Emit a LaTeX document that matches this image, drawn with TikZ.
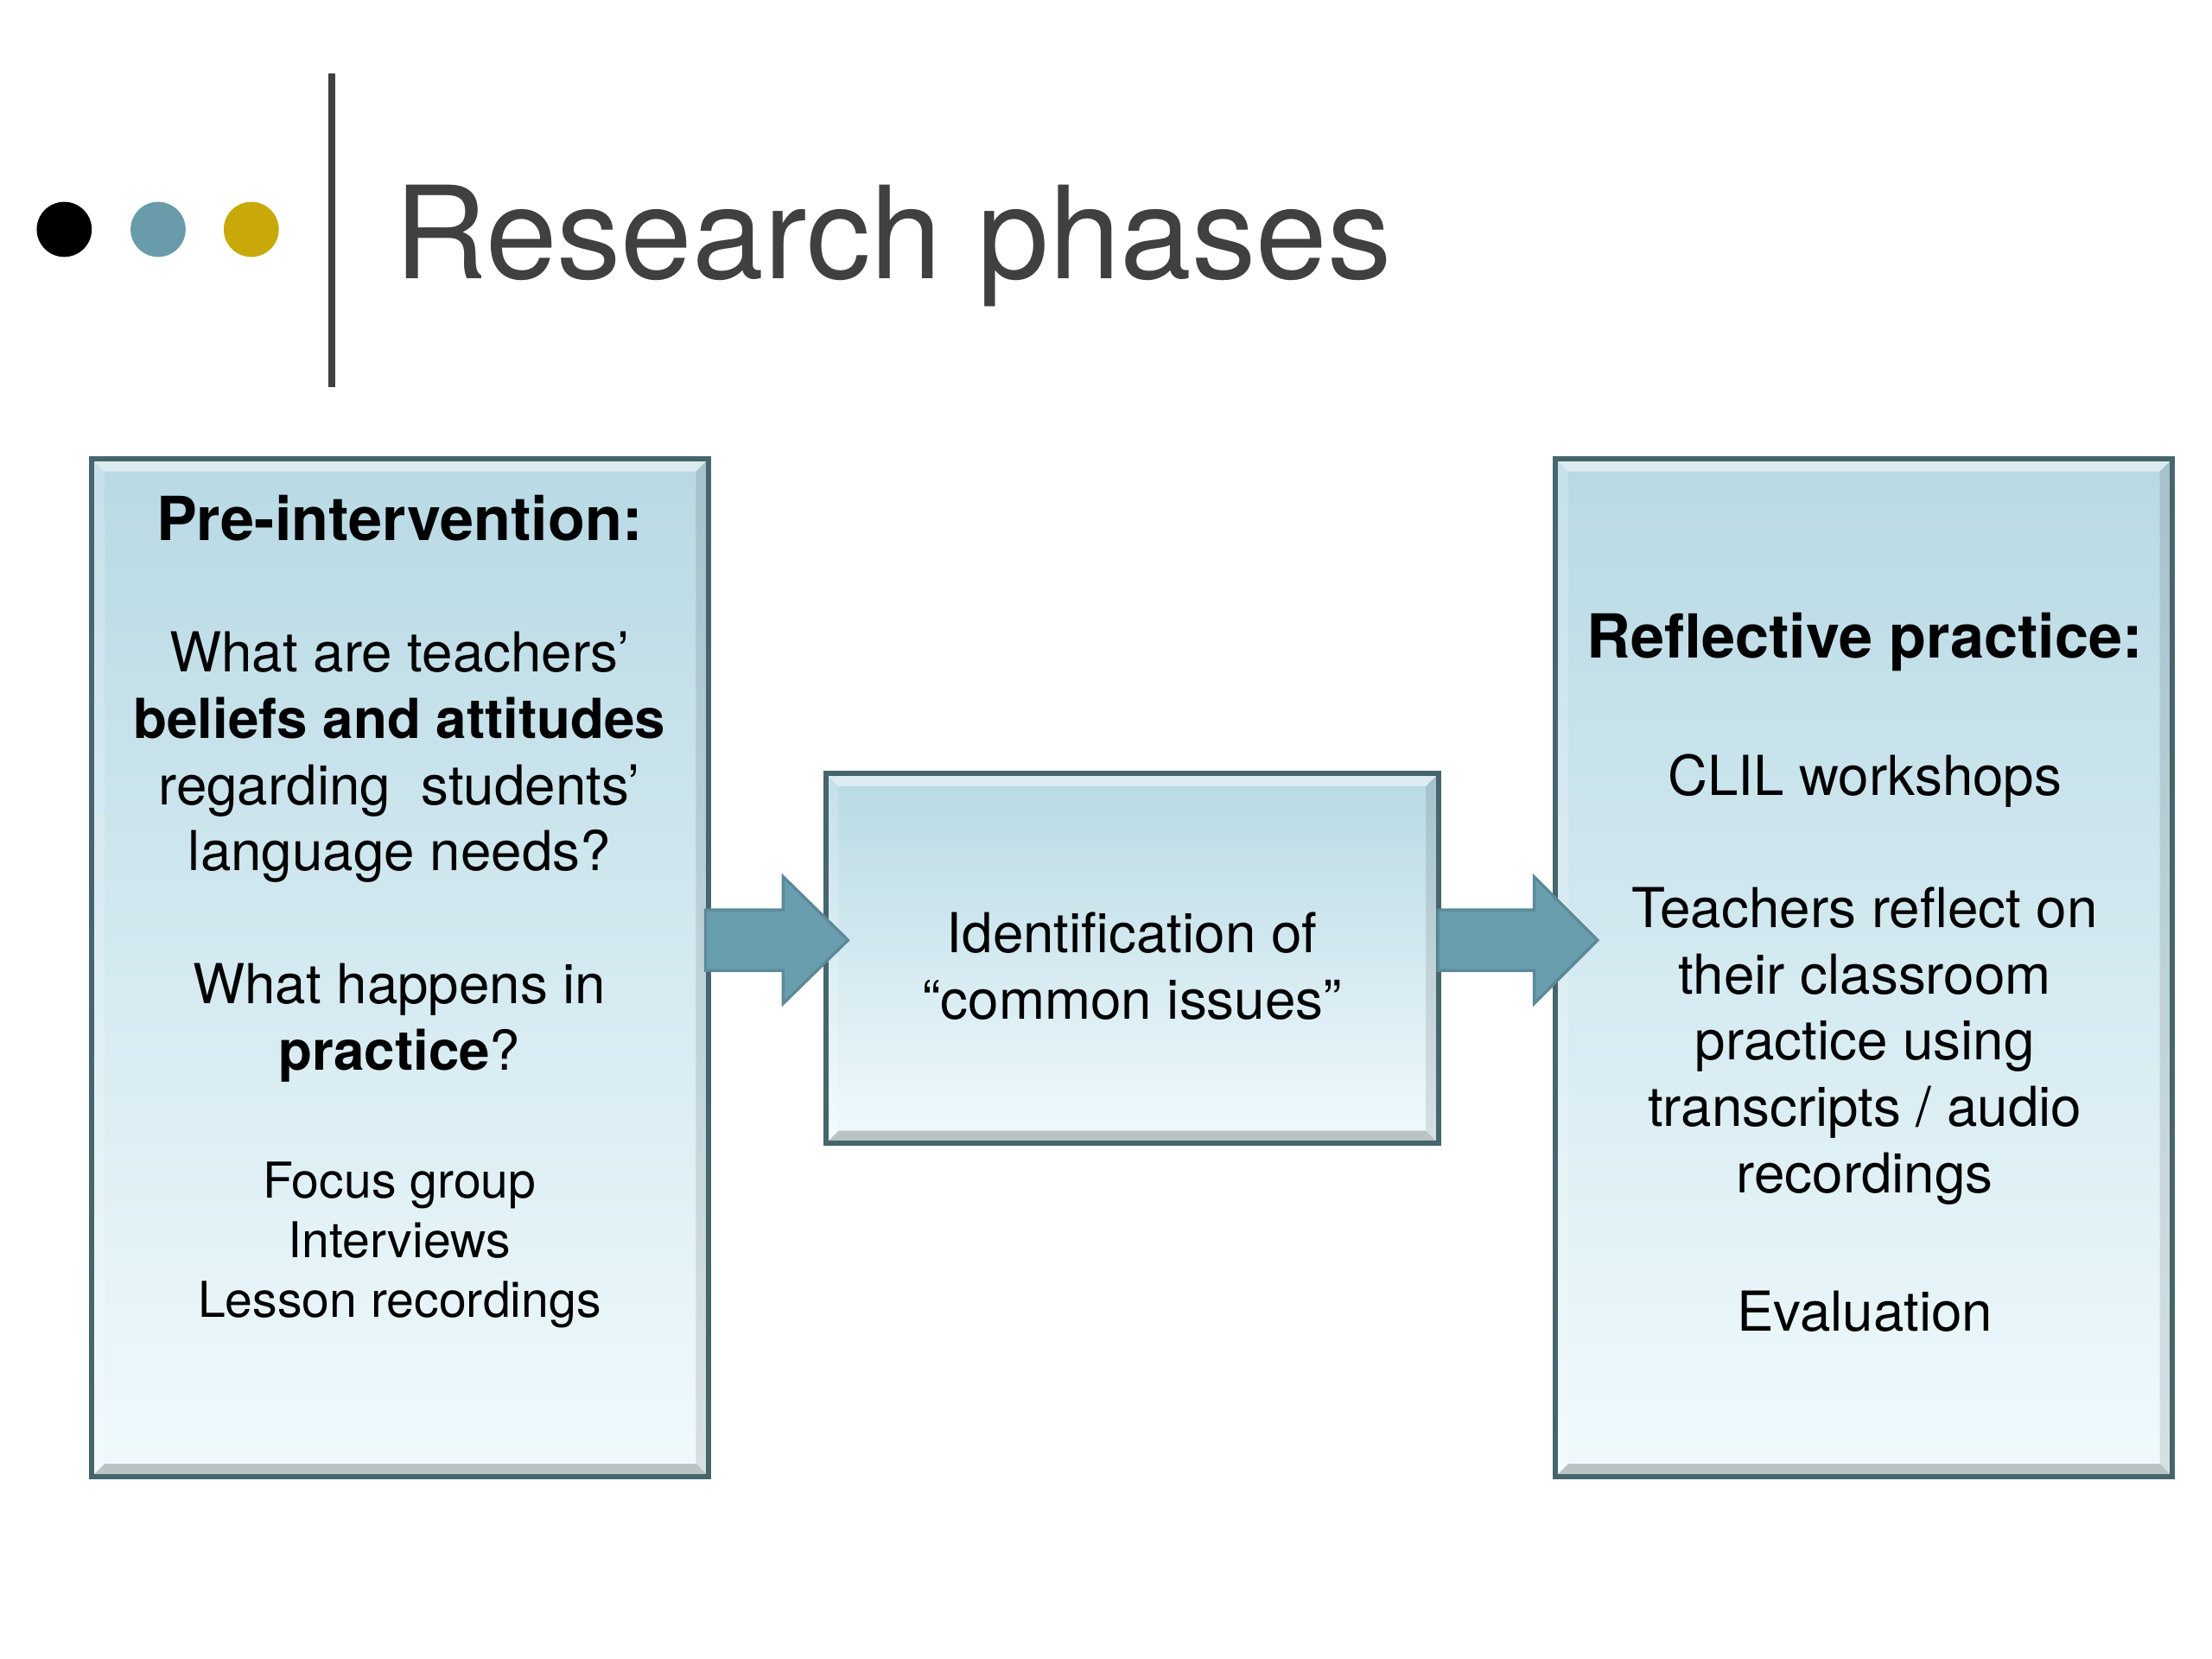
\documentclass[tikz,border=0pt]{standalone}
\usepackage{fontspec}
\setmainfont{TeX Gyre Heros}
\usetikzlibrary{calc,positioning}
\definecolor{boxedge}{HTML}{46656C}
\definecolor{boxtop}{HTML}{B8D9E4}
\definecolor{boxbottom}{HTML}{F0FAFD}
\definecolor{arrowfill}{HTML}{6A9DAD}
\definecolor{arrowedge}{HTML}{5A8998}
\definecolor{dotblue}{HTML}{6A9BAB}
\definecolor{dotgold}{HTML}{C9A80A}
\definecolor{titlegray}{HTML}{404040}
\tikzset{
  box/.style={draw=boxedge, line width=3.5pt, top color=boxtop, bottom color=boxbottom,
    inner sep=0pt, path picture={
      \fill[white, opacity=.5] (path picture bounding box.north west) -- (path picture bounding box.north east)
        -- ([xshift=-9pt,yshift=-9pt]path picture bounding box.north east) -- ([xshift=9pt,yshift=-9pt]path picture bounding box.north west) -- cycle;
      \fill[black, opacity=.22] (path picture bounding box.south west) -- (path picture bounding box.south east)
        -- ([xshift=-9pt,yshift=9pt]path picture bounding box.south east) -- ([xshift=9pt,yshift=9pt]path picture bounding box.south west) -- cycle;
      \fill[black, opacity=.1] (path picture bounding box.north east) -- (path picture bounding box.south east)
        -- ([xshift=-9pt,yshift=9pt]path picture bounding box.south east) -- ([xshift=-9pt,yshift=-9pt]path picture bounding box.north east) -- cycle;
      \fill[white, opacity=.2] (path picture bounding box.north west) -- (path picture bounding box.south west)
        -- ([xshift=9pt,yshift=9pt]path picture bounding box.south west) -- ([xshift=9pt,yshift=-9pt]path picture bounding box.north west) -- cycle;
    }},
  blockarrow/.style={fill=arrowfill, draw=arrowedge, line width=2pt, line join=miter},
  dot/.style={circle, minimum size=39pt, inner sep=0pt},
  body/.style={align=center, inner sep=0pt, font=\fontsize{39pt}{47pt}\selectfont},
  small/.style={align=center, inner sep=0pt, font=\fontsize{35pt}{42pt}\selectfont},
  head/.style={inner sep=0pt, font=\fontsize{43pt}{52pt}\selectfont\bfseries}
}
\begin{document}
\begin{tikzpicture}[x=1pt, y=-1pt]
\useasboundingbox (0,0) rectangle (1567,1175.25);
% title bar
\node[dot, fill=black] (d1) at (45.5,162.5) {};
\node[dot, fill=dotblue] (d2) at (112,162.5) {};
\node[dot, fill=dotgold] (d3) at (178,162.5) {};
\draw[titlegray, line width=5pt] (235,52) -- (235,274);
\node[anchor=base west, inner sep=0pt, text=titlegray, font=\fontsize{91pt}{100pt}\selectfont] (title) at (279,197.5) {Research phases};
% boxes
\node[box, minimum width=437pt, minimum height=721pt] (pre) at (283.5,685.5) {};
\node[box, minimum width=434pt, minimum height=262pt] (mid) at (802,679) {};
\node[box, minimum width=437pt, minimum height=721pt] (refl) at (1320.5,685.5) {};
% arrows
\coordinate (a1) at ($(pre.east)+(-4,-19.5)$);
\draw[blockarrow] (a1) ++(0,-21.5) -- ++(55,0) -- ++(0,-23.5) -- ++(46,45) -- ++(-46,45) -- ++(0,-23.5) -- ++(-55,0) -- cycle;
\coordinate (a2) at ($(mid.east)+(-2,-13)$);
\draw[blockarrow] (a2) ++(0,-21.5) -- ++(68,0) -- ++(0,-23.5) -- ++(45,45) -- ++(-45,45) -- ++(0,-23.5) -- ++(-68,0) -- cycle;
% left box
\node[head] (prehead) at (283,367) {Pre-intervention:};
\node[body] (prebelief) at (283,536.5) {What are teachers’\\\textbf{beliefs and attitudes}\\regarding\ \ students’\\language needs?};
\node[body] (prepract) at (283,724.5) {What happens in\\\textbf{practice}?};
\node[small] (premeth) at (283,882) {Focus group\\Interviews\\Lesson recordings};
% middle box
\node[body] (midtext) at (802,684.5) {Identification of\\“common issues”};
% right box
\node[head] (reflhead) at (1321,455) {Reflective practice:};
\node[body] (clil) at (1321,553) {CLIL workshops};
\node[body] (reflect) at (1321,741) {Teachers reflect on\\their classroom\\practice using\\transcripts / audio\\recordings};
\node[body] (eval) at (1321,929) {Evaluation};
\end{tikzpicture}
\end{document}
